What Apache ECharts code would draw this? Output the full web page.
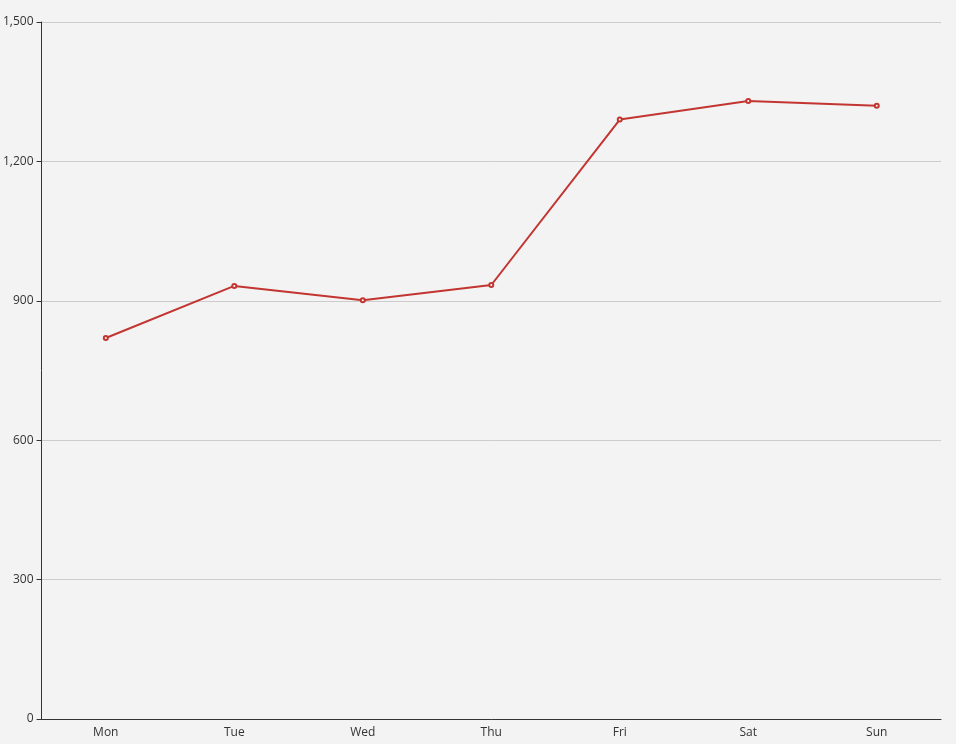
<!DOCTYPE html>
<html><head><meta charset="utf-8">
<script src="https://cdn.jsdelivr.net/npm/echarts@6/dist/echarts.min.js"></script>
<style>html,body{margin:0;padding:0;background:#f3f3f3}#c{width:956px;height:744px}</style>
</head><body><div id="c"></div>
<script>
const categories = ['Mon','Tue','Wed','Thu','Fri','Sat','Sun'];
const values = [820, 932, 901, 934, 1290, 1330, 1320];
const chart = echarts.init(document.getElementById('c'));
chart.setOption({
  backgroundColor: '#f3f3f3',
  animation: false,
  grid: {left: 35, right: 15, top: 22, bottom: 25, containLabel: false},
  xAxis: {type: 'category', data: categories,
    axisLine: {lineStyle: {color: '#333'}}, axisTick: {lineStyle: {color: '#333'}},
    axisLabel: {color: '#333', fontSize: 12, fontFamily: 'Open Sans', margin: 8}},
  yAxis: {type: 'value', min: 0, max: 1500, interval: 300,
    axisLine: {show: true, lineStyle: {color: '#333'}}, axisTick: {show: true, lineStyle: {color: '#333'}},
    axisLabel: {color: '#333', fontSize: 12, fontFamily: 'Open Sans', margin: 8},
    splitLine: {lineStyle: {color: '#ccc'}}},
  series: [{type: 'line', data: values, symbol: 'emptyCircle', symbolSize: 4,
    lineStyle: {color: '#c23531', width: 2}, itemStyle: {color: '#c23531'}}]
});
</script></body></html>
